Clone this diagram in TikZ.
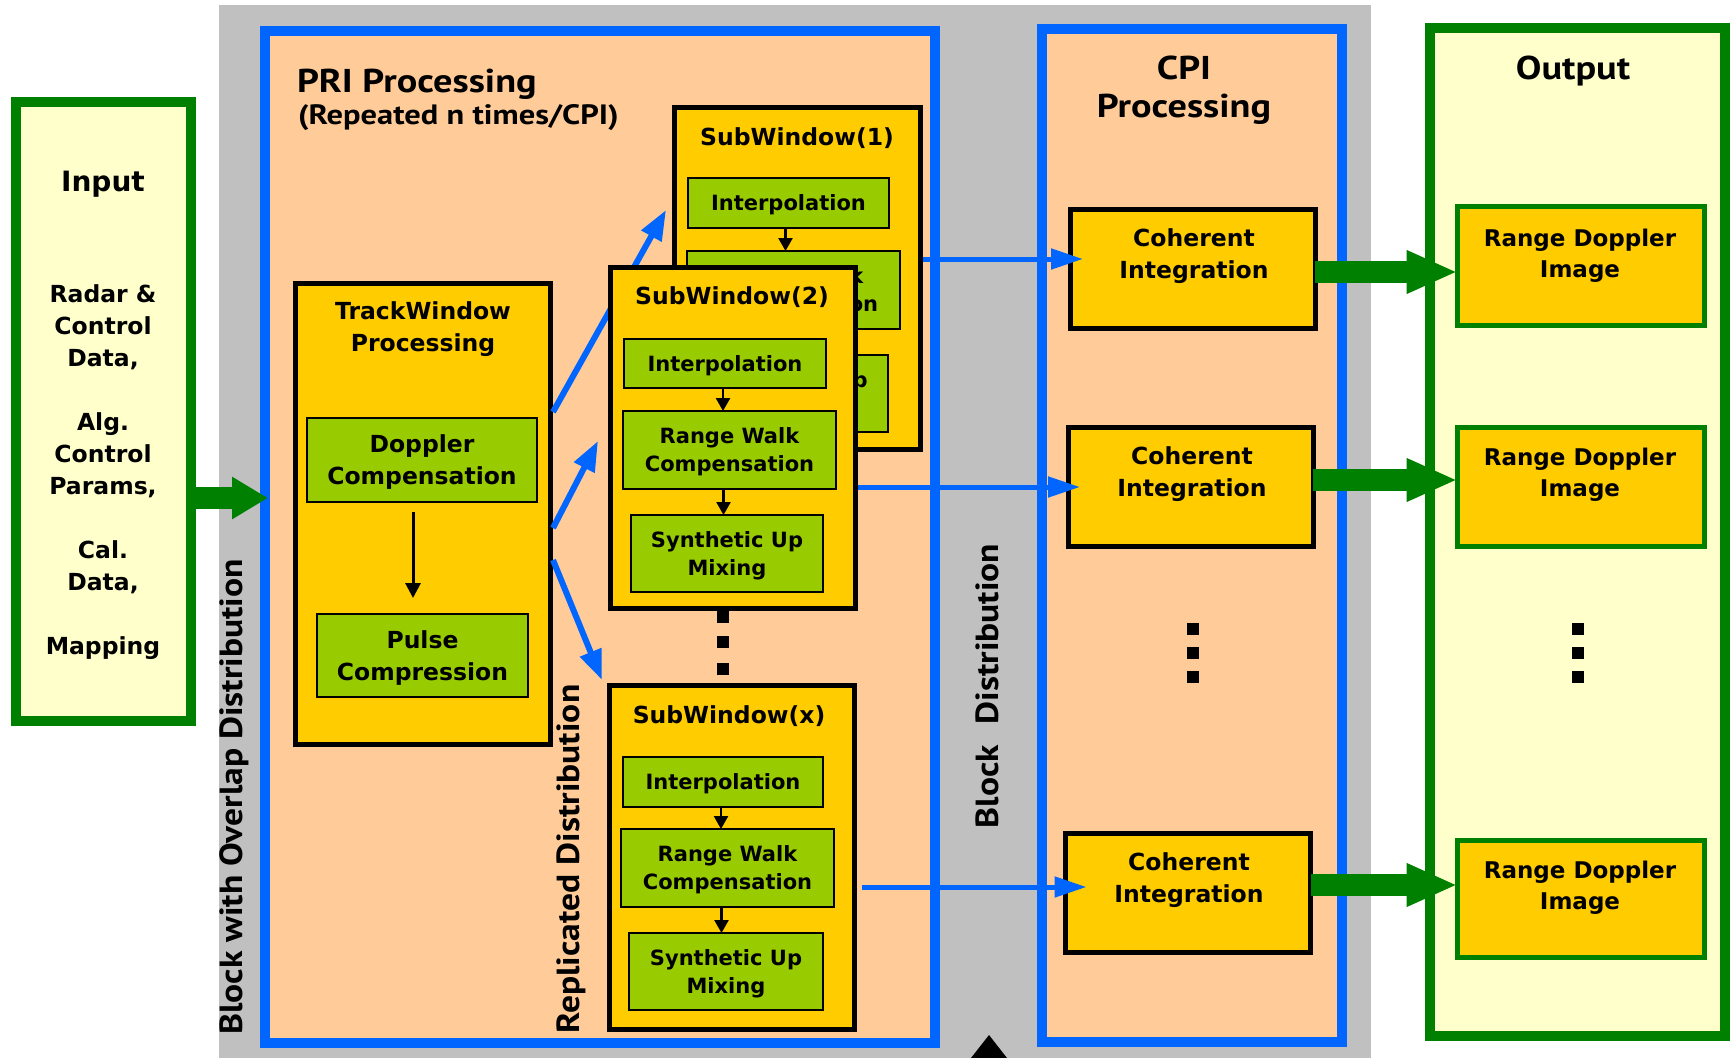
\documentclass[tikz,border=0pt]{standalone}
\usepackage{fontspec}
\setmainfont{DejaVu Sans}
\newfontfamily\ttlfont{PT Sans}[FakeStretch=1.16]
\newfontfamily\vlfont{PT Sans}[FakeStretch=1.11]
\usetikzlibrary{arrows.meta,calc}
\definecolor{gbg}{HTML}{C0C0C0}
\definecolor{peach}{HTML}{FFCC99}
\definecolor{bcol}{HTML}{0066FF}
\definecolor{ycol}{HTML}{FFCC00}
\definecolor{gcol}{HTML}{99CC00}
\definecolor{dgreen}{HTML}{008000}
\definecolor{lyel}{HTML}{FFFFCC}
\begin{document}
\begin{tikzpicture}[x=1pt,y=-1pt,
 every node/.style={inner sep=0pt,outer sep=0pt},
 region/.style={draw=bcol,line width=10pt,fill=peach,anchor=north west},
 iobox/.style={draw=dgreen,line width=10pt,fill=lyel,anchor=north west},
 cont/.style={draw=black,line width=5pt,fill=ycol,anchor=north west},
 stage/.style={draw=black,line width=2.5pt,fill=gcol,anchor=north west,align=center,text depth=0pt,font=\bfseries\fontsize{21}{28}\selectfont},
 bigstage/.style={stage,font=\bfseries\fontsize{23.5}{32}\selectfont},
 rdibox/.style={draw=dgreen,line width=5pt,fill=ycol,anchor=north west},
 swtitle/.style={font=\bfseries\fontsize{23.5}{32}\selectfont},
 boxtxt/.style={align=center,font=\bfseries\fontsize{23.5}{32}\selectfont},
 ttl/.style={font=\ttlfont\bfseries\fontsize{33}{38}\selectfont,align=center},
 ttlsub/.style={font=\ttlfont\bfseries\fontsize{28}{32}\selectfont},
 vlab/.style={font=\vlfont\bfseries\fontsize{32}{36}\selectfont,rotate=90},
 dotbox/.style={fill=black,minimum width=12pt,minimum height=12pt},
 garrow/.style={draw=dgreen,line width=22pt,-{Triangle[length=36pt,width=40pt]}},
 garrowb/.style={draw=dgreen,line width=22pt,-{Triangle[length=51pt,width=40pt]}},
 bthick/.style={draw=bcol,line width=6pt,-{Triangle[length=30pt,width=22pt]}},
 bthin/.style={draw=bcol,line width=5pt,-{Triangle[length=32pt,width=20pt]}},
 sarrow/.style={draw=black,line width=2.5pt,-{Triangle[length=13pt,width=14pt]}},
]
\useasboundingbox (0,0) rectangle (1733,1058);
\fill[white] (0,0) rectangle (1733,1058);
% background band
\node[fill=gbg,minimum width=1152pt,minimum height=1053pt,anchor=north west] (band) at (219,5) {};
% regions
\node[region,minimum width=670pt,minimum height=1012pt] (pri) at (265,31) {};
\node[region,minimum width=300pt,minimum height=1013pt] (cpi) at (1042,29) {};
\node[iobox,minimum width=175pt,minimum height=619pt] (inp) at (16,102) {};
\node[iobox,minimum width=295pt,minimum height=1008pt] (outp) at (1430,28) {};
% input text
\node[font=\bfseries\fontsize{28}{32}\selectfont] (inh) at (103,184) {Input};
\node[align=center,font=\bfseries\fontsize{23.5}{32}\selectfont] (inb) at (103,472)
 {Radar \&\\Control\\Data,\\[32pt]Alg.\\Control\\Params,\\[32pt]Cal.\\Data,\\[32pt]Mapping};
% input arrow
\coordinate (ya) at (0,498);
\draw[garrow] (inp.east |- ya) -- ($(pri.west |- ya)+(3,0)$);
% titles
\node[ttl,anchor=west] (prit) at (297,84) {PRI Processing};
\node[ttlsub,anchor=west] (pris) at (298,118) {(Repeated n times/CPI)};
\node[ttl] (cpit) at (1184,90) {CPI\\Processing};
\node[ttl] (outt) at (1573,71) {Output};
% vertical labels
\node[vlab] (bwo) at (234,797) {Block with Overlap Distribution};
\node[vlab] (rep) at (571,859) {Replicated Distribution};
\node[vlab] (bdl) at (987,686) {Block\hspace{12pt} Distribution};
% track window
\node[cont,minimum width=255pt,minimum height=461pt] (tw) at (295.5,283.5) {};
\node[boxtxt] (twt) at (423,329) {TrackWindow\\Processing};
\node[bigstage,minimum width=230pt,minimum height=84pt] (dop) at (307,418) {Doppler\\Compensation};
\node[bigstage,minimum width=211pt,minimum height=83pt] (pul) at (317,614) {Pulse\\Compression};
\draw[sarrow,line width=3pt,-{Triangle[length=15pt,width=15pt]},shorten <=10pt,shorten >=16pt] ($(dop.south)+(-9,0)$) -- ($(dop.south |- pul.north)+(-9,0)$);
% subwindow 1
\node[cont,minimum width=246pt,minimum height=342pt] (sw1) at (674.5,107.5) {};
\node[swtitle] (sw1t) at (797,138) {SubWindow(1)};
\node[stage,minimum width=201pt,minimum height=50pt] (i1) at (688,178) {Interpolation};
\node[stage,minimum width=213pt,minimum height=78pt] (r1) at (687,251) {Range Walk\\Compensation};
\node[stage,minimum width=193pt,minimum height=77pt] (s1) at (695,355) {Synthetic Up\\Mixing};
\draw[sarrow] ($(i1.south)+(-3,0)$) -- ($(i1.south |- r1.north)+(-3,0)$);
\draw[sarrow] (r1.south) -- (r1.south |- s1.north);
% blue arrow 1 (behind SubWindow(2))
\draw[bthick] ($(tw.east)+(2.5,-102)$) -- ($(sw1.north west)+(-8.5,102.5)$);
% subwindow 2
\node[cont,minimum width=245pt,minimum height=341pt] (sw2) at (610.5,267.5) {};
\node[swtitle] (sw2t) at (732,297) {SubWindow(2)};
\node[stage,minimum width=202pt,minimum height=49pt] (i2) at (624,339) {Interpolation};
\node[stage,minimum width=213pt,minimum height=78pt] (r2) at (623,411) {Range Walk\\Compensation};
\node[stage,minimum width=192pt,minimum height=77pt] (s2) at (631,515) {Synthetic Up\\Mixing};
\draw[sarrow] ($(i2.south)+(-2,0)$) -- ($(i2.south |- r2.north)+(-2,0)$);
\draw[sarrow] ($(r2.south)+(-6,0)$) -- ($(r2.south |- s2.north)+(-6,0)$);
% dots between windows
\node[dotbox] (d1) at (723,617) {};
\node[dotbox] (d2) at (723,642) {};
\node[dotbox] (d3) at (723,669) {};
% subwindow x
\node[cont,minimum width=245pt,minimum height=344pt] (swx) at (609.5,685.5) {};
\node[swtitle] (swxt) at (729,716) {SubWindow(x)};
\node[stage,minimum width=200pt,minimum height=50pt] (ix) at (623,757) {Interpolation};
\node[stage,minimum width=213pt,minimum height=78pt] (rx) at (621,829) {Range Walk\\Compensation};
\node[stage,minimum width=194pt,minimum height=77pt] (sx) at (629,933) {Synthetic Up\\Mixing};
\draw[sarrow] ($(ix.south)+(-2,0)$) -- ($(ix.south |- rx.north)+(-2,0)$);
\draw[sarrow] ($(rx.south)+(-6,0)$) -- ($(rx.south |- sx.north)+(-6,0)$);
% blue arrows 2,3
\draw[bthick] ($(tw.east)+(2.5,14)$) -- ($(sw2.west)+(-12.5,3)$);
\draw[bthick] ($(tw.east)+(2.5,46)$) -- ($(swx.north west)+(-7.5,-5.5)$);
% coherent integration
\node[cont,minimum width=245pt,minimum height=119pt] (ci1) at (1070,209.5) {};
\node[boxtxt] (ci1t) at (1194,256) {Coherent\\Integration};
\node[cont,minimum width=245pt,minimum height=119pt] (ci2) at (1068,427.5) {};
\node[boxtxt] (ci2t) at (1192,474) {Coherent\\Integration};
\node[cont,minimum width=245pt,minimum height=119pt] (ci3) at (1065.5,833.5) {};
\node[boxtxt] (ci3t) at (1189,880) {Coherent\\Integration};
% thin blue arrows
\coordinate (b1) at (0,259);
\coordinate (b2) at (0,487);
\coordinate (b3) at (0,887);
\draw[bthin] ($(sw1.east |- b1)+(2,0)$) -- ($(ci1.west |- b1)+(13,0)$);
\draw[bthin] ($(sw2.east |- b2)+(2,0)$) -- ($(ci2.west |- b2)+(12,0)$);
\draw[bthin] ($(swx.east |- b3)+(7,0)$) -- ($(ci3.west |- b3)+(21,0)$);
% cpi dots
\node[dotbox] (c1) at (1193,629) {};
\node[dotbox] (c2) at (1193,653) {};
\node[dotbox] (c3) at (1193,677) {};
% green arrows
\coordinate (g1) at (0,272);
\coordinate (g2) at (0,480);
\coordinate (g3) at (0,885);
\node[rdibox,minimum width=247pt,minimum height=119pt] (rdi1) at (1457.5,206.5) {};
\node[rdibox,minimum width=247pt,minimum height=119pt] (rdi2) at (1457.5,427.5) {};
\node[rdibox,minimum width=247pt,minimum height=117pt] (rdi3) at (1457.5,840) {};
\draw[garrowb] (ci1.east |- g1) -- (rdi1.west |- g1);
\draw[garrowb] (ci2.east |- g2) -- (rdi2.west |- g2);
\draw[garrowb] (ci3.east |- g3) -- (rdi3.west |- g3);
\node[boxtxt,font=\bfseries\fontsize{23}{31}\selectfont] (rdi1t) at (1580,256) {Range Doppler\\Image};
\node[boxtxt,font=\bfseries\fontsize{23}{31}\selectfont] (rdi2t) at (1580,475) {Range Doppler\\Image};
\node[boxtxt,font=\bfseries\fontsize{23}{31}\selectfont] (rdi3t) at (1580,888) {Range Doppler\\Image};
% output dots
\node[dotbox] (o1) at (1577.5,629) {};
\node[dotbox] (o2) at (1577.5,653) {};
\node[dotbox] (o3) at (1577.5,677) {};
% bottom marker
\fill[black] (971,1058) -- (989,1035) -- (1007,1058) -- cycle;
\end{tikzpicture}
\end{document}
